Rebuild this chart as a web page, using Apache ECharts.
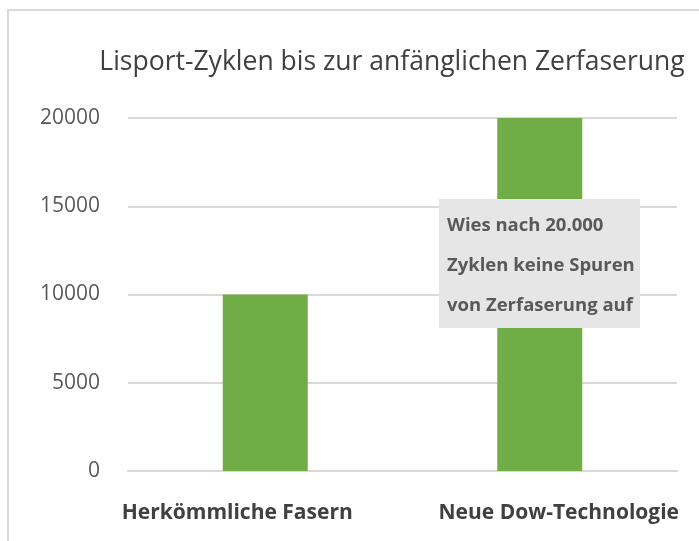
<!DOCTYPE html>
<html>
<head>
<meta charset="utf-8">
<script src="https://cdn.jsdelivr.net/npm/echarts@6/dist/echarts.min.js"></script>
<style>
  html, body { margin: 0; padding: 0; background: #fff; }
  #chart { width: 699px; height: 541px; }
</style>
</head>
<body>
<div id="chart"></div>
<script>
const categories = ['Herkömmliche Fasern', 'Neue Dow-Technologie']
const cycles = [10000, 20000]
const yTicks = [0, 5000, 10000, 15000, 20000]
const noteLines = ['Wies nach 20.000', 'Zyklen keine Spuren', 'von Zerfaserung auf']

const font = '"Open Sans", "Noto Sans", sans-serif'
const chart = echarts.init(document.getElementById('chart'))

// Excel nudged the two labels apart a little
const labelPads = [[0, 56, 0, 0], [0, 0, 0, 38]]

chart.setOption({
  backgroundColor: '#fff',
  animation: false,
  title: {
    text: 'Lisport-Zyklen bis zur anfänglichen Zerfaserung',
    left: 387, top: 44, textAlign: 'center',
    textStyle: { fontFamily: font, fontSize: 26.5, fontWeight: 'normal', color: '#404040' }
  },
  grid: { left: 128, right: 22, top: 118, bottom: 70 },
  xAxis: {
    type: 'category',
    data: categories.map((c, i) => ({ value: c, textStyle: { padding: labelPads[i] } })),
    axisLine: { lineStyle: { color: '#d9d9d9', width: 2 } },
    axisTick: { show: false },
    axisLabel: {
      interval: 0, hideOverlap: false,
      fontFamily: font, fontSize: 21, fontWeight: 'bold', color: '#404040', margin: 32
    }
  },
  yAxis: {
    type: 'value',
    min: yTicks[0], max: yTicks[yTicks.length - 1], interval: 5000,
    axisLine: { show: false },
    axisTick: { show: false },
    splitLine: { lineStyle: { color: '#d9d9d9', width: 2 } },
    axisLabel: { fontFamily: font, fontSize: 21, color: '#595959', margin: 28, formatter: v => String(v) }
  },
  series: [{
    type: 'bar',
    data: cycles,
    barWidth: 85,
    itemStyle: { color: '#70ad47' }
  }],
  graphic: [
    {
      type: 'rect', z: 100, silent: true,
      shape: { x: 8, y: 10, width: 720, height: 560 },
      style: { fill: 'none', stroke: '#d9d9d9', lineWidth: 2 }
    },
    {
      type: 'rect', z: 100,
      shape: { x: 439, y: 199, width: 201, height: 129 },
      style: { fill: '#e7e6e6' }
    },
    ...noteLines.map((t, i) => ({
      type: 'text', z: 101,
      x: 447, y: 226 + i * 40,
      style: {
        text: t, fontFamily: font, fontSize: 18.5, fontWeight: 'bold',
        fill: '#595959', textVerticalAlign: 'middle'
      }
    }))
  ]
})
</script>
</body>
</html>
